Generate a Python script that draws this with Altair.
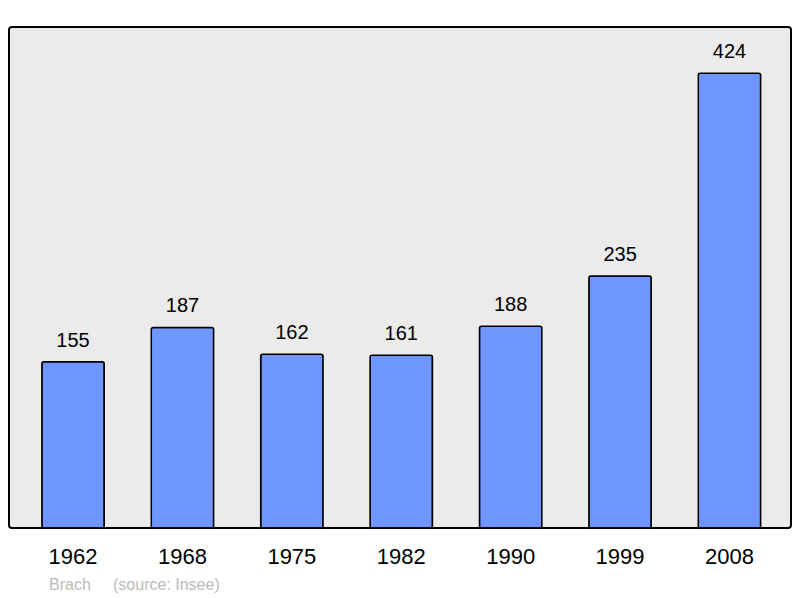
import altair as alt
import pandas as pd

years = ["1962", "1968", "1975", "1982", "1990", "1999", "2008"]
population = [155, 187, 162, 161, 188, 235, 424]

df = pd.DataFrame({"year": years, "pop": population})

W = 782
H = 501

x = alt.X("year:N", sort=years, title=None,
          scale=alt.Scale(paddingInner=0.43, paddingOuter=0.289, align=0.52),
          axis=alt.Axis(domain=False, ticks=False, labelAngle=0, labelFontSize=22,
                        labelFont="Liberation Sans", labelColor="#000000",
                        labelPadding=18))
y = alt.Y("pop:Q", title=None, scale=alt.Scale(domain=[0, 467], nice=False, zero=True),
          axis=None)

bars = alt.Chart(df).mark_bar(color="#6f96ff", stroke="#000000", strokeWidth=1.5,
                              cornerRadius=2).encode(x=x, y=y)
labels = alt.Chart(df).mark_text(dy=-15, baseline="alphabetic", fontSize=20,
                                 font="Liberation Sans", color="#000000").encode(
    x=x, y=y, text="pop:Q")

chart = (bars + labels).properties(
    width=W, height=H,
    padding={"left": 1, "top": 19, "right": 1, "bottom": 0},
    background="#ffffff",
    title=alt.TitleParams(
        text="Brach\u00a0\u00a0\u00a0\u00a0\u00a0(source: Insee)",
        orient="bottom", anchor="start", dx=40, offset=10,
        fontSize=16, font="Liberation Sans", fontWeight="normal", color="#bbbbbb"),
).configure_view(
    fill="#ebebeb", stroke="#000000", strokeWidth=2, cornerRadius=3
)

chart.save("out.html", embed_options={"renderer": "svg", "actions": False})
